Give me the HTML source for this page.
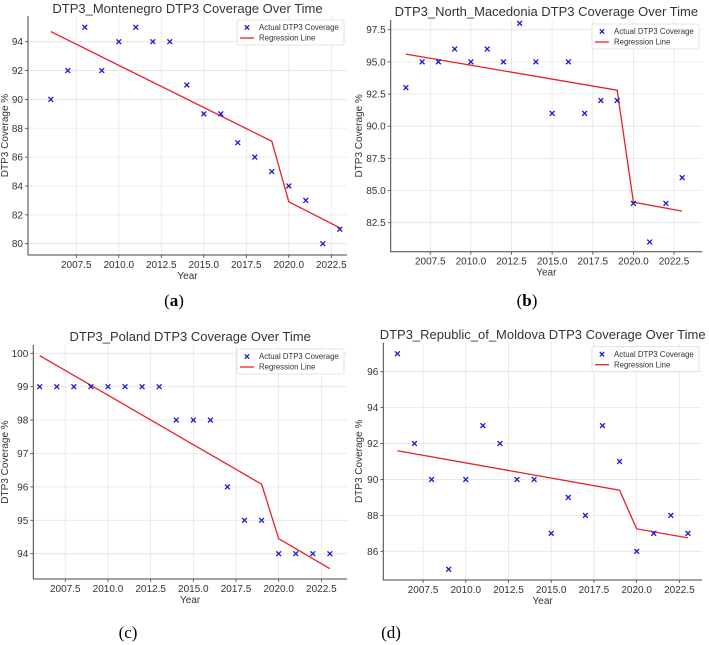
<!DOCTYPE html>
<html><head><meta charset="utf-8">
<style>
html,body{margin:0;padding:0;background:#fff;}
svg{display:block;}
text{font-family:"Liberation Sans","DejaVu Sans",sans-serif;}
.cap{font-family:"Liberation Serif",serif;font-size:17px;fill:#000;}
</style></head>
<body>
<svg id="fig" width="709" height="645" viewBox="0 0 709 645" xmlns="http://www.w3.org/2000/svg">
<text class="cap" x="174" y="306" text-anchor="middle">(<tspan font-weight="bold">a</tspan>)</text>
<text class="cap" x="527" y="306" text-anchor="middle">(<tspan font-weight="bold">b</tspan>)</text>
<text class="cap" x="128" y="638" text-anchor="middle">(c)</text>
<text class="cap" x="391" y="638" text-anchor="middle">(d)</text>
</svg>
<script>
const years = [2006,2007,2008,2009,2010,2011,2012,2013,2014,2015,2016,2017,2018,2019,2020,2021,2022,2023];
const xTickVals = [2007.5,2010,2012.5,2015,2017.5,2020,2022.5];
const xTickLabels = ["2007.5","2010.0","2012.5","2015.0","2017.5","2020.0","2022.5"];
const regYears = [2006,2019,2020,2023];

const montenegroValues = [90,92,95,92,94,95,94,94,91,89,89,87,86,85,84,83,80,81];
const montenegroReg = [94.7,87.1,82.9,81.1];
const montenegroTicks = [80,82,84,86,88,90,92,94];
const montenegroTickLabels = ["80","82","84","86","88","90","92","94"];

const macedoniaValues = [93,95,95,96,95,96,95,98,95,91,95,91,92,92,84,81,84,86];
const macedoniaReg = [95.6,92.8,84.1,83.4];
const macedoniaTicks = [82.5,85,87.5,90,92.5,95,97.5];
const macedoniaTickLabels = ["82.5","85.0","87.5","90.0","92.5","95.0","97.5"];

const polandValues = [99,99,99,99,99,99,99,99,98,98,98,96,95,95,94,94,94,94];
const polandReg = [99.93,96.08,94.45,93.55];
const polandTicks = [94,95,96,97,98,99,100];
const polandTickLabels = ["94","95","96","97","98","99","100"];

const moldovaValues = [97,92,90,85,90,93,92,90,90,87,89,88,93,91,86,87,88,87];
const moldovaReg = [91.6,89.4,87.25,86.75];
const moldovaTicks = [86,88,90,92,94,96];
const moldovaTickLabels = ["86","88","90","92","94","96"];

const NS = "http://www.w3.org/2000/svg";
const svg = document.getElementById('fig');
function mk(tag, attrs, parent){
  const e = document.createElementNS(NS, tag);
  for (const k in attrs) e.setAttribute(k, attrs[k]);
  (parent||svg).appendChild(e);
  return e;
}

function panel(cfg, values, reg, ticks, tickLabels){
  const g = mk('g', {});
  
  
  const xs = v => cfg.x0 + (v - 2006) * cfg.xpy;
  const ys = v => cfg.yA + (v - cfg.vA) * (cfg.yB - cfg.yA) / (cfg.vB - cfg.vA);
  xTickVals.forEach((t,i) => {
    const l = mk('line', {x1:xs(t), x2:xs(t), y1:cfg.top, y2:cfg.bottom, stroke:'#e6e6e6', 'stroke-width':0.8}, g);
    
    
    const tk = mk('line', {x1:xs(t), x2:xs(t), y1:cfg.bottom, y2:cfg.bottom+3, stroke:'#444', 'stroke-width':0.8}, g);
    
    
    const tx = mk('text', {x:xs(t), y:cfg.bottom+13, 'font-size':10, fill:'#333', 'text-anchor':'middle'}, g);
    tx.textContent = xTickLabels[i];
    
    
  });
  ticks.forEach((t,i) => {
    const l = mk('line', {x1:cfg.left, x2:cfg.right, y1:ys(t), y2:ys(t), stroke:'#e6e6e6', 'stroke-width':0.8}, g);
    
    
    const tk = mk('line', {x1:cfg.left-3, x2:cfg.left, y1:ys(t), y2:ys(t), stroke:'#444', 'stroke-width':0.8}, g);
    
    
    const tx = mk('text', {x:cfg.left-5, y:ys(t)+3.5, 'font-size':10, fill:'#333', 'text-anchor':'end'}, g);
    tx.textContent = tickLabels[i];
    
    
  });
  const sp = mk('path', {d:`M${cfg.left},${cfg.top} V${cfg.bottom} H${cfg.right}`, fill:'none', stroke:'#444', 'stroke-width':1}, g);
  
  
  const pts = regYears.map((y,i) => `${xs(y)},${ys(reg[i])}`).join(' ');
  const rl = mk('polyline', {points:pts, fill:'none', stroke:'#e8202a', 'stroke-width':1.3}, g);
  
  
  years.forEach((y,i) => {
    const cx = xs(y), cy = ys(values[i]), s = 2.4;
    const p = mk('path', {d:`M${cx-s},${cy-s} L${cx+s},${cy+s} M${cx-s},${cy+s} L${cx+s},${cy-s}`, stroke:'#1a1ad0', 'stroke-width':1.3}, g);
    
    
  });
  const tt = mk('text', {x:(cfg.left+cfg.right)/2, y:cfg.titleY, 'font-size':13, fill:'#333', 'text-anchor':'middle'}, g);
  tt.textContent = cfg.title;
  
  
  const xl = mk('text', {x:(cfg.left+cfg.right)/2, y:cfg.bottom+24, 'font-size':10, fill:'#333', 'text-anchor':'middle'}, g);
  xl.textContent = 'Year';
  
  
  const yc = (cfg.top+cfg.bottom)/2;
  const yl = mk('text', {x:0, y:0, 'font-size':10, fill:'#333', 'text-anchor':'middle', transform:`translate(${cfg.ylx},${yc}) rotate(-90)`}, g);
  yl.textContent = 'DTP3 Coverage %';
  
  
  const lx = cfg.right - 110, ly = cfg.top + 4;
  const lg = mk('g', {}, g);
  
  
  mk('rect', {x:lx, y:ly, width:107, height:25, fill:'#fff', stroke:'#ddd', 'stroke-width':0.8, rx:2}, lg);
  const mx = lx+10, my = ly+7.5, s=2.2;
  mk('path', {d:`M${mx-s},${my-s} L${mx+s},${my+s} M${mx-s},${my+s} L${mx+s},${my-s}`, stroke:'#1a1ad0', 'stroke-width':1.3}, lg);
  const t1 = mk('text', {x:lx+22, y:my+2.7, 'font-size':7.8, fill:'#333'}, lg);
  t1.textContent = 'Actual DTP3 Coverage';
  
  
  mk('line', {x1:lx+3, x2:lx+17, y1:ly+18, y2:ly+18, stroke:'#e8202a', 'stroke-width':1.3}, lg);
  const t2 = mk('text', {x:lx+22, y:ly+20.7, 'font-size':7.8, fill:'#333'}, lg);
  t2.textContent = 'Regression Line';
  
  
}

panel({name:'chart-montenegro', title:'DTP3_Montenegro DTP3 Coverage Over Time', left:28, right:347, top:16, bottom:255, x0:50.8, xpy:17, vA:94, yA:41.7, vB:80, yB:243.7, titleY:13, ylx:8},
  montenegroValues, montenegroReg, montenegroTicks, montenegroTickLabels);
panel({name:'chart-north-macedonia', title:'DTP3_North_Macedonia DTP3 Coverage Over Time', left:390.7, right:702, top:20, bottom:251.7, x0:405.9, xpy:16.25, vA:97.5, yA:29.7, vB:82.5, yB:222.7, titleY:16, ylx:362},
  macedoniaValues, macedoniaReg, macedoniaTicks, macedoniaTickLabels);
panel({name:'chart-poland', title:'DTP3_Poland DTP3 Coverage Over Time', left:33.3, right:347, top:345, bottom:579, x0:39.7, xpy:17.07, vA:100, yA:353.3, vB:94, yB:553.7, titleY:341, ylx:8},
  polandValues, polandReg, polandTicks, polandTickLabels);
panel({name:'chart-moldova', title:'DTP3_Republic_of_Moldova DTP3 Coverage Over Time', left:383.3, right:702, top:342.7, bottom:580, x0:397.4, xpy:17.09, vA:96, yA:371.7, vB:86, yB:551.3, titleY:339, ylx:362},
  moldovaValues, moldovaReg, moldovaTicks, moldovaTickLabels);
</script>
</body></html>
